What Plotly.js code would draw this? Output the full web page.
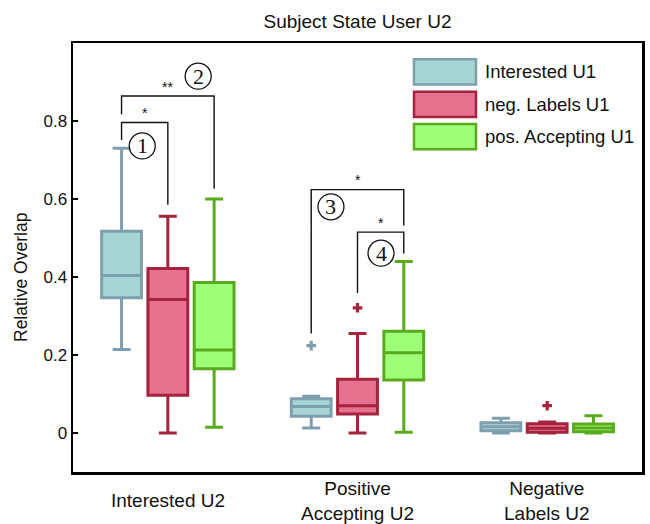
<!DOCTYPE html>
<html>
<head>
<meta charset="utf-8">
<script src="https://cdn.plot.ly/plotly-3.0.1.min.js"></script>
<style>html,body{margin:0;padding:0;background:#fff;}</style>
</head>
<body>
<div id="chart" style="width:650px;height:524px;"></div>
<script>
// ---------------- DATA ----------------
const groupLabels = ['Interested U2', 'Positive<br>Accepting U2', 'Negative<br>Labels U2'];
const seriesNames = ['Interested U1', 'neg. Labels U1', 'pos. Accepting U1'];

// Interested U1 (per group)
const intLo  = [0.214, 0.013, 0.000];
const intQ1  = [0.347, 0.043, 0.006];
const intMed = [0.404, 0.068, 0.016];
const intQ3  = [0.517, 0.088, 0.026];
const intHi  = [0.730, 0.094, 0.038];
// neg. Labels U1
const negLo  = [0.000, 0.000, 0.000];
const negQ1  = [0.097, 0.049, 0.002];
const negMed = [0.342, 0.070, 0.012];
const negQ3  = [0.422, 0.138, 0.024];
const negHi  = [0.556, 0.255, 0.028];
// pos. Accepting U1
const posLo  = [0.015, 0.002, 0.000];
const posQ1  = [0.165, 0.136, 0.003];
const posMed = [0.213, 0.206, 0.013];
const posQ3  = [0.386, 0.261, 0.023];
const posHi  = [0.600, 0.440, 0.044];

// outliers: [groupIndex, value]
const intOutliers = [[1, 0.224]];
const negOutliers = [[1, 0.321], [2, 0.070]];
const posOutliers = [];

// significance comparisons: group, series a, series b, stars, label
const compGroup  = [0, 0, 1, 1];
const compA      = [0, 0, 0, 1];
const compB      = [1, 2, 2, 2];
const compStars  = ['*', '**', '*', '*'];
const compLabels = ['1', '2', '3', '4'];

const yTicks = [0, 0.2, 0.4, 0.6, 0.8];
const yTickText = ['0', '0.2', '0.4', '0.6', '0.8'];

// ---------------- STYLE / GEOMETRY ----------------
const fills = ['#A6D6D4', '#E5738F', '#9EFF78'];
const edges = ['#7F9FAF', '#A5233C', '#5AAA1E'];
const offsets = [-0.244, 0, 0.244];
const FONT = '"Liberation Sans", Arial, Helvetica, sans-serif';

const stats = [
  [intLo, intQ1, intMed, intQ3, intHi],
  [negLo, negQ1, negMed, negQ3, negHi],
  [posLo, posQ1, posMed, posQ3, posHi]
];
const outliers = [intOutliers, negOutliers, posOutliers];
const pos = (g, s) => (g + 1) + offsets[s];

const traces = [];
stats.forEach((st, s) => {
  traces.push({
    type: 'box',
    name: seriesNames[s],
    x: [0, 1, 2].map(g => pos(g, s)),
    lowerfence: st[0], q1: st[1], median: st[2], q3: st[3], upperfence: st[4],
    width: 0.21,
    whiskerwidth: 0.45,
    fillcolor: fills[s],
    line: {color: edges[s], width: 3},
    boxpoints: false,
    hoverinfo: 'skip',
    showlegend: false
  });
  if (outliers[s].length) {
    traces.push({
      type: 'scatter', mode: 'markers',
      x: outliers[s].map(o => pos(o[0], s)),
      y: outliers[s].map(o => o[1]),
      marker: {symbol: 'cross', size: 8, color: edges[s], line: {width: 0}},
      hoverinfo: 'skip', showlegend: false
    });
  }
});

// bracket geometry (data units): top line, left leg end, right leg end, star y, label position
const brTop   = [0.796, 0.864, 0.624, 0.515];
const brLegA  = [0.751, 0.817, 0.255, 0.359];
const brLegB  = [0.585, 0.626, 0.532, 0.460];
const starY   = [0.828, 0.894, 0.657, 0.545];
const numX    = [0.865, 1.160, 1.860, 2.124];
const numY    = [0.736, 0.915, 0.580, 0.461];

const shapes = [];
const annotations = [];
compGroup.forEach((g, i) => {
  const xa = pos(g, compA[i]), xb = pos(g, compB[i]);
  shapes.push({
    type: 'path', xref: 'x', yref: 'y',
    path: `M ${xa} ${brLegA[i]} L ${xa} ${brTop[i]} L ${xb} ${brTop[i]} L ${xb} ${brLegB[i]}`,
    line: {color: '#111', width: 1.4}
  });
  annotations.push({
    x: (xa + xb) / 2, y: starY[i], xref: 'x', yref: 'y', text: compStars[i],
    showarrow: false, yanchor: 'middle', yshift: -3,
    font: {family: FONT, size: 14, color: '#111'}
  });
  shapes.push({
    type: 'circle', xref: 'x', yref: 'y', xsizemode: 'pixel', ysizemode: 'pixel',
    xanchor: numX[i], yanchor: numY[i], x0: -13, x1: 13, y0: -13, y1: 13,
    line: {color: '#111', width: 1.3}
  });
  annotations.push({
    x: numX[i], y: numY[i], xref: 'x', yref: 'y', text: compLabels[i],
    showarrow: false, yanchor: 'middle', xanchor: 'center',
    font: {family: '"Liberation Serif", "DejaVu Serif", serif', size: 22, color: '#111'}
  });
});

// x category labels (centered vertically below the axis)
groupLabels.forEach((lab, g) => {
  annotations.push({
    x: g + 1, y: -28.7 / 429, xref: 'x', yref: 'paper', text: lab,
    showarrow: false, xanchor: 'center', yanchor: 'middle',
    font: {family: FONT, size: 19, color: '#111'}
  });
});

// y axis title
annotations.push({
  x: -52 / 569, y: (472 - 277) / 429, xref: 'paper', yref: 'paper', text: 'Relative Overlap',
  textangle: -90, showarrow: false, xanchor: 'center', yanchor: 'middle',
  font: {family: FONT, size: 17.5, color: '#111'}
});

// legend (drawn as patches + text)
const legX0 = (414 - 73) / 569, legX1 = (476 - 73) / 569, legTx = (483 - 73) / 569;
const legRowTop = [59.3, 91.7, 124];
seriesNames.forEach((nm, s) => {
  const top = legRowTop[s], bot = top + 25.3;
  shapes.push({
    type: 'rect', xref: 'paper', yref: 'paper',
    x0: legX0, x1: legX1, y0: (472 - bot) / 429, y1: (472 - top) / 429,
    fillcolor: fills[s], line: {color: edges[s], width: 2.5}
  });
  annotations.push({
    x: legTx, y: (472 - (top + bot) / 2) / 429, xref: 'paper', yref: 'paper',
    text: nm, showarrow: false, xanchor: 'left', yanchor: 'middle',
    font: {family: FONT, size: 18.5, color: '#111'}
  });
});

const layout = {
  width: 650, height: 524,
  margin: {l: 73, r: 8, t: 43, b: 52, pad: 0},
  paper_bgcolor: '#fff', plot_bgcolor: '#fff',
  font: {family: FONT, color: '#111'},
  title: {
    text: 'Subject State User U2', x: 0.5, xref: 'paper', xanchor: 'center',
    y: 1 - 21.7 / 524, yref: 'container', yanchor: 'middle',
    font: {family: FONT, size: 19, color: '#111'}
  },
  boxmode: 'overlay',
  showlegend: false,
  xaxis: {
    range: [0.5, 3.5], showgrid: false, zeroline: false,
    showline: true, mirror: true, linecolor: '#000', linewidth: 2.5,
    showticklabels: false, ticks: ''
  },
  yaxis: {
    range: [-0.1, 1.0], showgrid: false, zeroline: false,
    showline: true, mirror: true, linecolor: '#000', linewidth: 2.5,
    tickvals: yTicks, ticktext: yTickText,
    ticks: 'inside', ticklen: 5, tickwidth: 2, tickcolor: '#000',
    tickfont: {family: FONT, size: 17, color: '#111'}
  },
  shapes: shapes,
  annotations: annotations
};

Plotly.newPlot('chart', traces, layout, {staticPlot: true, displayModeBar: false});
</script>
</body>
</html>
